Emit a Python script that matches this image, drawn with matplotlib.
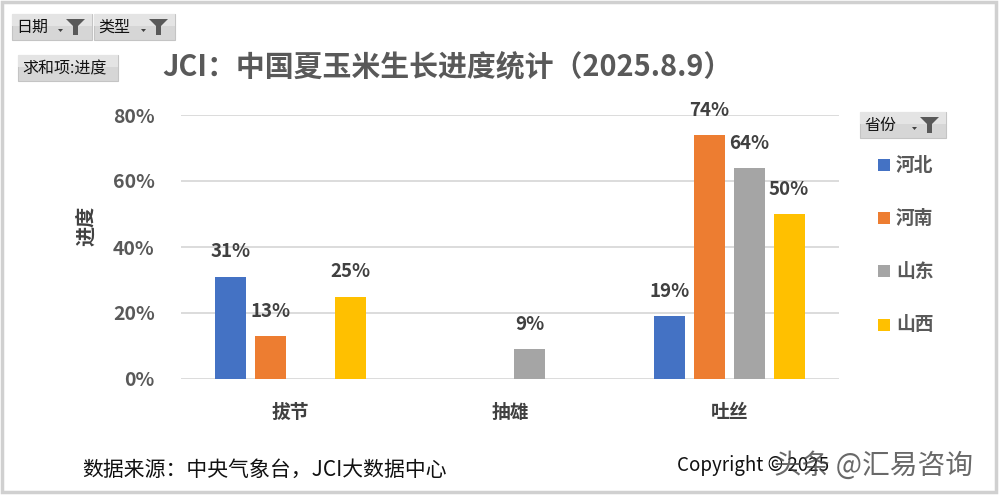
import numpy as np
import matplotlib
matplotlib.use("Agg")
import matplotlib.pyplot as plt
from matplotlib.patches import Rectangle, Polygon

plt.rcParams['font.family'] = ['Noto Sans CJK SC', 'DejaVu Sans']

categories = ['拔节', '抽雄', '吐丝']
provinces = ['河北', '河南', '山东', '山西']
values = {
    '河北': [0.31, np.nan, 0.19],
    '河南': [0.13, np.nan, 0.74],
    '山东': [np.nan, 0.09, 0.64],
    '山西': [0.25, np.nan, 0.50],
}
colors = ['#4472C4', '#ED7D31', '#A5A5A5', '#FFC000']
yticks = [0, 0.2, 0.4, 0.6, 0.8]
ytick_labels = ['0%', '20%', '40%', '60%', '80%']

W, H = 1003, 496
fig = plt.figure(figsize=(W / 100, H / 100), dpi=100)
fig.patch.set_facecolor('white')

# overlay axes in pixel coordinates (y downward)
ov = fig.add_axes([0, 0, 1, 1], zorder=0)
ov.set_xlim(0, W)
ov.set_ylim(H, 0)
ov.axis('off')

# outer frame
ov.add_patch(Rectangle((2, 2), W - 9, H - 6, fill=False, edgecolor='#d0d0d0', lw=2.5))

def button(x0, y0, x1, y1, label, funnel=True):
    ov.add_patch(Rectangle((x0, y0), x1 - x0, y1 - y0, facecolor='#d6d6d6',
                           edgecolor='#c4c4c4', lw=0.8))
    ov.add_patch(Rectangle((x0, y0), x1 - x0, (y1 - y0) * 0.45, facecolor='#e4e4e4',
                           edgecolor='none'))
    ov.text(x0 + 4, (y0 + y1) / 2 + 0.5, label, fontsize=11.5, color='#111111',
            ha='left', va='center')
    if funnel:
        fx = x1 - 26
        fy = y0 + 5
        ov.add_patch(Polygon([(fx, fy), (fx + 19, fy), (fx + 12, fy + 7), (fx + 12, fy + 16),
                              (fx + 7, fy + 16), (fx + 7, fy + 7)], closed=True,
                             facecolor='#595959', edgecolor='none'))
        ov.add_patch(Polygon([(fx - 8, fy + 10), (fx - 3, fy + 10), (fx - 5.5, fy + 13)],
                             closed=True, facecolor='#404040', edgecolor='none'))

button(12, 14, 92, 40, '日期')
button(94, 14, 175, 40, '类型')
button(18, 55, 118, 81, '求和项:进度', funnel=False)
button(860, 112, 946, 138, '省份')

# title
ov.text(447, 66, 'JCI：中国夏玉米生长进度统计（2025.8.9）', fontsize=20.8, fontweight='bold',
        color='#595959', ha='center', va='center')

# y label
ov.text(86, 226, '进度', fontsize=14.5, fontweight='bold', color='#404040', rotation=90,
        ha='center', va='center')

# legend
leg_y = [165, 218, 271, 325]
for p, c, ly in zip(provinces, colors, leg_y):
    ov.add_patch(Rectangle((878, ly - 6), 12, 12, facecolor=c, edgecolor='none'))
    ov.text(896, ly, p, fontsize=13.5, fontweight='bold', color='#595959', ha='left', va='center')

# footer
ov.text(82, 470, '数据来源：中央气象台，JCI大数据中心', fontsize=15, color='#111111',
        ha='left', va='center')
ov.text(677, 465, 'Copyright © 2025', fontsize=13.5, color='#111111', ha='left', va='center')
ov.text(774, 466, '头条 @汇易咨询', fontsize=20, color='#444444', alpha=0.8,
        ha='left', va='center')

# main axes
left, right = 181 / W, 839 / W
bottom, top = (H - 379) / H, (H - 115) / H
ax = fig.add_axes([left, bottom, right - left, top - bottom], zorder=1)
ax.set_facecolor('none')

x = np.arange(len(categories))
bw = 31 / 220
step = 40 / 220
offsets = (np.arange(len(provinces)) - 1.5) * step
for i, (p, c) in enumerate(zip(provinces, colors)):
    vals = np.array(values[p], dtype=float)
    ax.bar(x + offsets[i], vals, width=bw, color=c, zorder=3)
    for xi, v in zip(x + offsets[i], vals):
        if not np.isnan(v):
            ax.annotate(f'{v * 100:.0f}%', (xi, v), xytext=(0, 11), textcoords='offset points',
                        ha='center', va='bottom', fontsize=13.5, fontweight='bold',
                        color='#404040', annotation_clip=False, zorder=4)

ax.set_xlim(-0.5, 2.5)
ax.set_ylim(0, 0.8)
ax.set_yticks(yticks)
ax.set_yticklabels(ytick_labels)
ax.set_xticks(x)
ax.set_xticklabels(categories)
ax.grid(axis='y', color='#d9d9d9', lw=1.3, zorder=0)
ax.set_axisbelow(True)
for s in ax.spines.values():
    s.set_visible(False)
ax.tick_params(axis='both', length=0)
ax.tick_params(axis='y', pad=19, labelsize=14, labelcolor='#595959')
ax.tick_params(axis='x', pad=17, labelsize=13.5, labelcolor='#404040')
for t in ax.get_yticklabels() + ax.get_xticklabels():
    t.set_fontweight('bold')

fig.savefig('out.png', dpi=100, facecolor='white')
